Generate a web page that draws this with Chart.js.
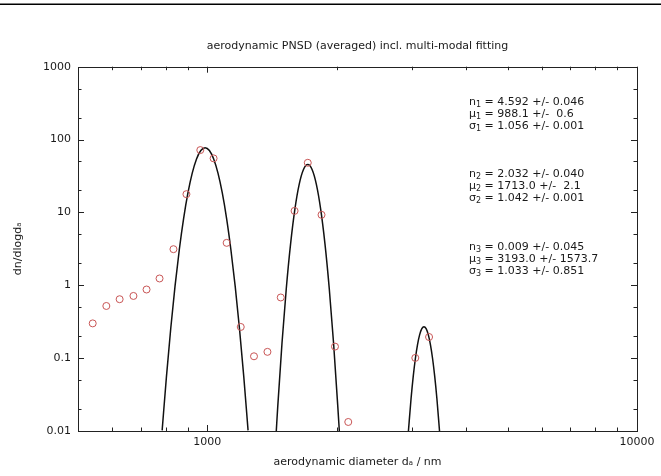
<!DOCTYPE html>
<html>
<head>
<meta charset="utf-8">
<script src="https://cdn.jsdelivr.net/npm/chart.js@4"></script>
<style>
  html, body { margin: 0; padding: 0; background: #ffffff; }
  canvas { display: block; }
</style>
</head>
<body>
<canvas id="c" width="661" height="476"></canvas>
<script>
const obsX = [541, 582, 625, 673, 722, 774, 834, 894, 963, 1034, 1109, 1196, 1284, 1380, 1482, 1596, 1713, 1844, 1982, 2128, 3048, 3281];
const obsY = [0.30, 0.52, 0.644, 0.714, 0.875, 1.24, 3.13, 17.8, 71.7, 55.2, 3.82, 0.268, 0.106, 0.122, 0.68, 10.5, 48, 9.27, 0.144, 0.0133, 0.1007, 0.195];

// ---- fitted mode curves ----
const fit1X = [784.9, 803.2, 821.9, 841.0, 860.6, 880.7, 901.2, 922.2, 943.7, 965.7, 988.1, 1011.1, 1034.6, 1058.7, 1083.4, 1108.6, 1134.4, 1160.9, 1187.9, 1215.6, 1243.9];
const fit1Y = [0.0102, 0.0558, 0.255, 0.972, 3.10, 8.30, 18.5, 34.6, 54.2, 70.8, 77.4, 70.8, 54.2, 34.6, 18.5, 8.30, 3.10, 0.972, 0.255, 0.0558, 0.0102];

const fit2X = [1447.0, 1458.0, 1492.0, 1526.7, 1562.3, 1598.7, 1635.9, 1674.0, 1713.0, 1752.9, 1793.7, 1835.5, 1878.3, 1922.0, 1966.8, 2012.6, 2028.5];
const fit2Y = [0.01, 0.0211, 0.1616, 0.904, 3.70, 11.08, 24.25, 38.8, 45.37, 38.8, 24.25, 11.08, 3.70, 0.904, 0.1616, 0.0211, 0.01];

const fit3X = [2937.7, 2979.9, 3014.4, 3049.3, 3084.6, 3120.3, 3156.4, 3193.0, 3230.0, 3267.4, 3305.2, 3343.5, 3382.2, 3421.4, 3470.5];
const fit3Y = [0.01, 0.0281, 0.0561, 0.0988, 0.1534, 0.210, 0.2535, 0.27, 0.2535, 0.210, 0.1534, 0.0988, 0.0561, 0.0281, 0.01];

// ---- axes / ticks ----
const xMin = 500, xMax = 10000;
const yMin = 0.01, yMax = 1000;
const xTickLabels = ['1000', '10000'];
const yTickLabels = ['0.01', '0.1', '1', '10', '100', '1000'];
const xMajorTicks = [1000, 10000];
const xMinorTicks = [600, 700, 800, 900, 2000, 3000, 4000, 5000, 6000, 7000, 8000, 9000];
const yMajorTicks = [0.01, 0.1, 1, 10, 100, 1000];
const yMinorTicks = [0.02, 0.05, 0.2, 0.5, 2, 5, 20, 50, 200, 500];

// ---- texts ----
const titleText = 'aerodynamic PNSD (averaged) incl. multi-modal fitting';
const xTitle = 'aerodynamic diameter dₐ / nm';
const yTitle = 'dn/dlogdₐ';
// [symbol, subscript, rest]
const fitLines = [
  ['n', '1', ' = 4.592 +/- 0.046'],
  ['μ', '1', ' = 988.1 +/-  0.6'],
  ['σ', '1', ' = 1.056 +/- 0.001'],
  ['n', '2', ' = 2.032 +/- 0.040'],
  ['μ', '2', ' = 1713.0 +/-  2.1'],
  ['σ', '2', ' = 1.042 +/- 0.001'],
  ['n', '3', ' = 0.009 +/- 0.045'],
  ['μ', '3', ' = 3193.0 +/- 1573.7'],
  ['σ', '3', ' = 1.033 +/- 0.851']
];
const fitLineY = [101.7, 113.7, 125.7, 174.3, 186.3, 198.3, 247.3, 259.3, 271.3];

const FONT = 'DejaVu Sans';
const INK = '#1a1a1a';

function toXY(xs, ys) { return xs.map((x, i) => ({ x: x, y: ys[i] })); }
function near(v, arr) { return arr.findIndex(a => Math.abs(Math.log10(v) - Math.log10(a)) < 1e-6); }

const framePlugin = {
  id: 'frame',
  beforeDraw(chart) {
    const ctx = chart.ctx;
    ctx.save();
    ctx.fillStyle = '#ffffff';
    ctx.fillRect(0, 0, chart.width, chart.height);
    ctx.fillStyle = '#000000';
    ctx.fillRect(0, 3.5, chart.width, 1.5);
    ctx.restore();
  },
  afterDatasetsDraw(chart) {
    const ctx = chart.ctx;
    const a = chart.chartArea;
    const xs = chart.scales.x, ys = chart.scales.y;
    ctx.save();
    ctx.strokeStyle = '#222';
    ctx.lineWidth = 1;
    ctx.strokeRect(Math.round(a.left) + 0.5, Math.round(a.top) + 0.5,
                   Math.round(a.right - a.left), Math.round(a.bottom - a.top));
    ctx.beginPath();
    const tx = (v, len) => {
      const p = Math.round(xs.getPixelForValue(v)) + 0.5;
      ctx.moveTo(p, a.bottom); ctx.lineTo(p, a.bottom - len);
      ctx.moveTo(p, a.top); ctx.lineTo(p, a.top + len);
    };
    const ty = (v, len) => {
      const p = Math.round(ys.getPixelForValue(v)) + 0.5;
      ctx.moveTo(a.left, p); ctx.lineTo(a.left + len, p);
      ctx.moveTo(a.right, p); ctx.lineTo(a.right - len, p);
    };
    xMajorTicks.forEach(v => tx(v, 6));
    xMinorTicks.forEach(v => tx(v, 3.5));
    yMajorTicks.forEach(v => ty(v, 6));
    yMinorTicks.forEach(v => ty(v, 3.5));
    ctx.stroke();

    // fit parameter annotation
    ctx.fillStyle = INK;
    ctx.textBaseline = 'middle';
    ctx.textAlign = 'left';
    const x0 = 469;
    fitLines.forEach((ln, i) => {
      const y = fitLineY[i];
      let x = x0;
      ctx.font = '11px "' + FONT + '"';
      ctx.fillText(ln[0], x, y);
      x += ctx.measureText(ln[0]).width;
      ctx.font = '8px "' + FONT + '"';
      ctx.fillText(ln[1], x, y + 3);
      x += ctx.measureText(ln[1]).width;
      ctx.font = '11px "' + FONT + '"';
      ctx.fillText(ln[2], x, y);
    });
    ctx.restore();
  }
};

new Chart(document.getElementById('c'), {
  type: 'scatter',
  data: {
    datasets: [
      {
        label: 'measured',
        data: toXY(obsX, obsY),
        pointStyle: 'circle',
        pointRadius: 3.5,
        pointBorderWidth: 1,
        borderColor: '#c95656',
        backgroundColor: 'rgba(0,0,0,0)',
        showLine: false
      },
      {
        label: 'mode 1',
        data: toXY(fit1X, fit1Y),
        showLine: true, pointRadius: 0, borderColor: '#111', borderWidth: 1.5,
        cubicInterpolationMode: 'monotone', fill: false
      },
      {
        label: 'mode 2',
        data: toXY(fit2X, fit2Y),
        showLine: true, pointRadius: 0, borderColor: '#111', borderWidth: 1.5,
        cubicInterpolationMode: 'monotone', fill: false
      },
      {
        label: 'mode 3',
        data: toXY(fit3X, fit3Y),
        showLine: true, pointRadius: 0, borderColor: '#111', borderWidth: 1.5,
        cubicInterpolationMode: 'monotone', fill: false
      }
    ]
  },
  options: {
    responsive: false,
    animation: false,
    devicePixelRatio: 1,
    layout: { padding: { top: 0, right: 24, bottom: 0, left: 0 } },
    plugins: {
      legend: { display: false },
      tooltip: { enabled: false },
      title: {
        display: true,
        fullSize: false,
        text: titleText,
        color: INK,
        font: { family: FONT, size: 11, weight: 'normal' },
        padding: { top: 40, bottom: 13.5 }
      }
    },
    scales: {
      x: {
        type: 'logarithmic',
        position: 'bottom',
        min: xMin, max: xMax,
        afterFit: s => { s.height = 45; },
        grid: { display: false, drawTicks: false },
        border: { display: false },
        ticks: {
          autoSkip: false, maxRotation: 0, minRotation: 0, padding: 5,
          color: INK, font: { family: FONT, size: 11 },
          callback: v => { const k = near(v, xMajorTicks); return k >= 0 ? xTickLabels[k] : ''; }
        },
        title: {
          display: true, text: xTitle, color: INK,
          font: { family: FONT, size: 11 },
          padding: { top: 0, bottom: 7.4 }
        }
      },
      y: {
        type: 'logarithmic',
        position: 'left',
        min: yMin, max: yMax,
        afterFit: s => { s.width = 78; },
        grid: { display: false, drawTicks: false },
        border: { display: false },
        ticks: {
          autoSkip: false, padding: 7,
          color: INK, font: { family: FONT, size: 11 },
          callback: v => { const k = near(v, yMajorTicks); return k >= 0 ? yTickLabels[k] : ''; }
        },
        title: {
          display: true, text: yTitle, color: INK,
          font: { family: FONT, size: 11 },
          padding: { top: 11.4, bottom: 0 }
        }
      }
    }
  },
  plugins: [framePlugin]
});
</script>
</body>
</html>
